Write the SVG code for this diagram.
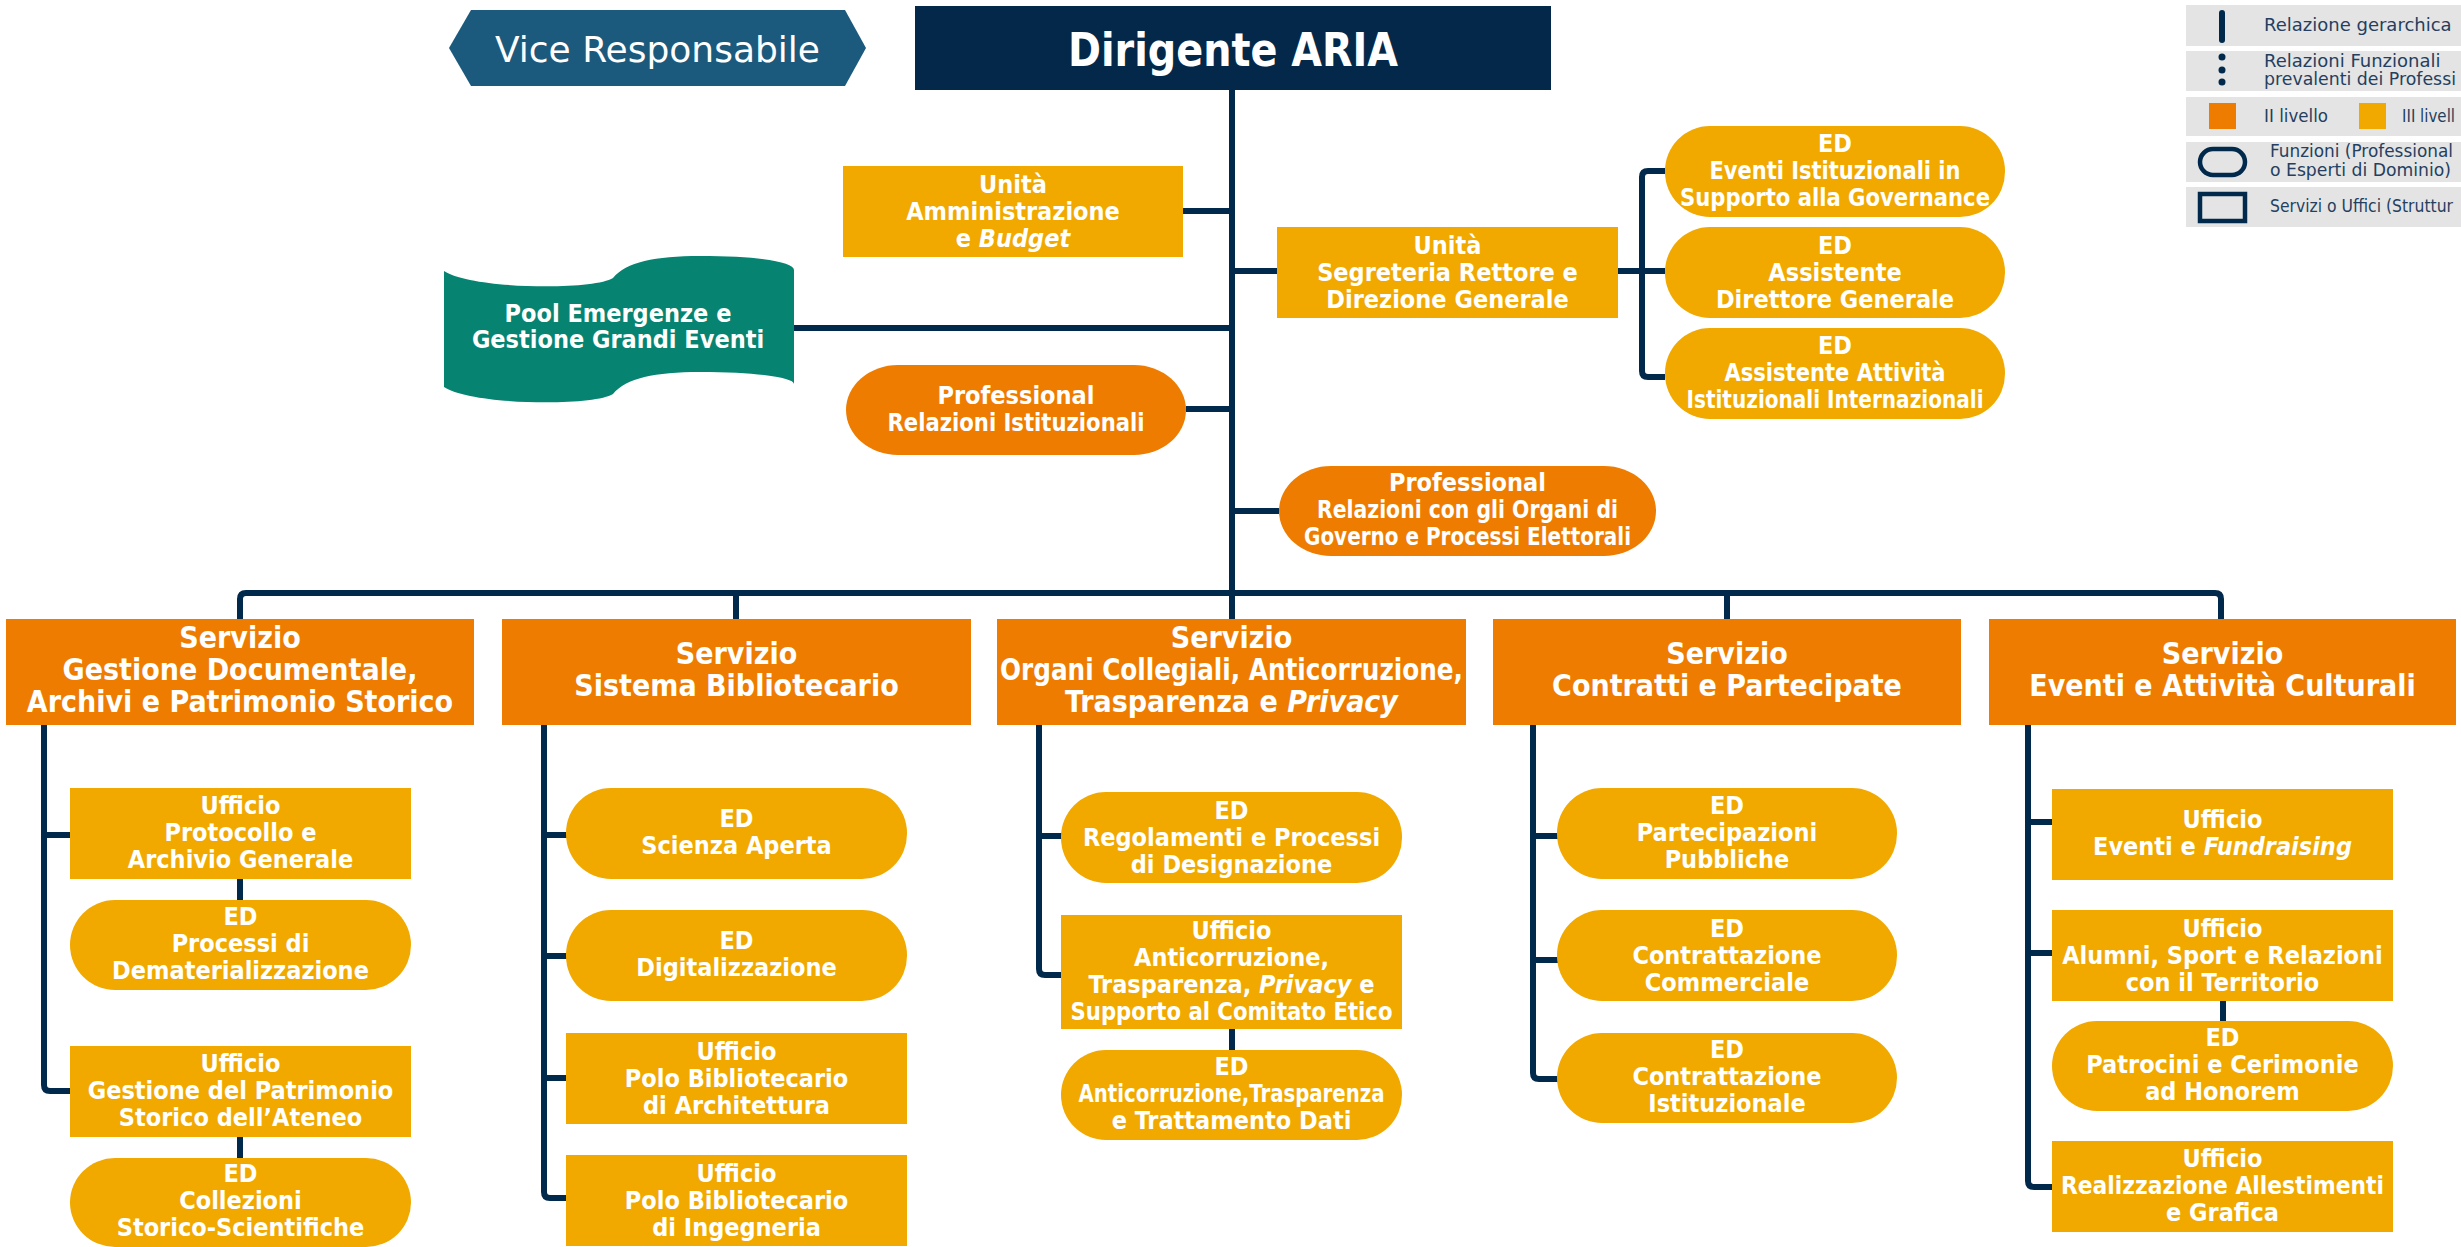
<svg xmlns="http://www.w3.org/2000/svg" width="2461" height="1247" viewBox="0 0 2461 1247">
<style>
.l{stroke:#00294b;stroke-width:6;fill:none;stroke-linejoin:round;stroke-linecap:butt}
.o{fill:#ee7c00}
.a{fill:#f1a900}
.t{font-family:'DejaVu Sans Condensed','DejaVu Sans',sans-serif;font-stretch:condensed;font-weight:bold;font-size:25px;fill:#ffffff;text-anchor:middle}
.s{font-size:30px}
.lg{font-family:'DejaVu Sans',sans-serif;font-size:18px;fill:#243f60}
.lb{fill:#e4e4e4}
</style>
<rect width="2461" height="1247" fill="#ffffff"/>

<g id="connectors" class="l">
<path d="M1232,89 V593"/>
<path d="M240,620 V599 Q240,593 246,593 H2215 Q2221,593 2221,599 V620"/>
<path d="M736,593 V619 M1232,593 V619 M1727,593 V619"/>
<path d="M1183,211 H1232 M794,328 H1232 M1186,409 H1232 M1232,271 H1277 M1232,511 H1279 M1618,271 H1665"/>
<path d="M1665,171 H1648 Q1642,171 1642,177 V371 Q1642,377 1648,377 H1665"/>
<path d="M44,725 V1085 Q44,1091 50,1091 H71 M44,835 H70 M240,879 V900 M240,1137 V1158"/>
<path d="M544,725 V1192 Q544,1198 550,1198 H567 M544,835 H567 M544,956 H567 M544,1078 H567"/>
<path d="M1039,725 V969 Q1039,975 1045,975 H1061 M1039,836 H1062 M1232,1029 V1050"/>
<path d="M1533,725 V1073 Q1533,1079 1539,1079 H1558 M1533,836 H1558 M1533,960 H1558"/>
<path d="M2028,725 V1181 Q2028,1187 2034,1187 H2052 M2028,822 H2053 M2028,953 H2052 M2223,1001 V1021"/>
</g>

<g id="vice-responsabile">
<polygon points="449,48 471,10 845,10 866,48 845,86 471,86" fill="#1b5a7d"/>
<text x="657.5" y="62" font-family="'DejaVu Sans',sans-serif" font-size="36" fill="#ffffff" text-anchor="middle">Vice Responsabile</text>
</g>

<g id="dirigente-aria">
<rect x="915" y="6" width="636" height="84" fill="#03284a"/>
<text class="t" x="1233" y="66" style="font-size:46px" textLength="330" lengthAdjust="spacingAndGlyphs">Dirigente ARIA</text>
</g>

<g id="unita-amministrazione">
<rect class="a" x="843" y="166" width="340" height="91"/>
<text class="t" x="1013" y="192.5">Unità</text>
<text class="t" x="1013" y="219.5">Amministrazione</text>
<text class="t" x="1013" y="246.5">e <tspan font-style="italic">Budget</tspan></text>
</g>

<g id="pool-emergenze">
<path d="M444,271 C470,289 592,291 613,278 C626,262 655,256 700,256 C760,256 794,262 794,270 V384 C794,378 760,372 700,372 C655,372 626,378 613,394 C592,407 470,405 444,387 Z" fill="#068471"/>
<text class="t" x="618" y="322">Pool Emergenze e</text>
<text class="t" x="618" y="348">Gestione Grandi Eventi</text>
</g>

<g id="professional-relazioni-istituzionali">
<rect class="o" x="846" y="365" width="340" height="90" rx="52" ry="45"/>
<text class="t" x="1016" y="403.5">Professional</text>
<text class="t" x="1016" y="430.5" textLength="257" lengthAdjust="spacingAndGlyphs">Relazioni Istituzionali</text>
</g>

<g id="unita-segreteria">
<rect class="a" x="1277" y="227" width="341" height="91"/>
<text class="t" x="1447.5" y="253.5">Unità</text>
<text class="t" x="1447.5" y="280.5">Segreteria Rettore e</text>
<text class="t" x="1447.5" y="307.5">Direzione Generale</text>
</g>

<g id="professional-organi-governo">
<rect class="o" x="1279" y="466" width="377" height="90" rx="52" ry="45"/>
<text class="t" x="1467.5" y="491">Professional</text>
<text class="t" x="1467.5" y="518" textLength="301" lengthAdjust="spacingAndGlyphs">Relazioni con gli Organi di</text>
<text class="t" x="1467.5" y="545" textLength="327" lengthAdjust="spacingAndGlyphs">Governo e Processi Elettorali</text>
</g>

<g id="ed-eventi-istituzionali">
<rect class="a" x="1665" y="126" width="340" height="91" rx="45" ry="45"/>
<text class="t" x="1835" y="151.5">ED</text>
<text class="t" x="1835" y="178.5" textLength="251" lengthAdjust="spacingAndGlyphs">Eventi Istituzionali in</text>
<text class="t" x="1835" y="205.5" textLength="310" lengthAdjust="spacingAndGlyphs">Supporto alla Governance</text>
</g>

<g id="ed-assistente-dg">
<rect class="a" x="1665" y="227" width="340" height="91" rx="45" ry="45"/>
<text class="t" x="1835" y="253.5">ED</text>
<text class="t" x="1835" y="280.5">Assistente</text>
<text class="t" x="1835" y="307.5">Direttore Generale</text>
</g>

<g id="ed-assistente-internazionali">
<rect class="a" x="1665" y="328" width="340" height="91" rx="45" ry="45"/>
<text class="t" x="1835" y="353.5">ED</text>
<text class="t" x="1835" y="380.5" textLength="221" lengthAdjust="spacingAndGlyphs">Assistente Attività</text>
<text class="t" x="1835" y="407.5" textLength="297" lengthAdjust="spacingAndGlyphs">Istituzionali Internazionali</text>
</g>

<g id="legend">
<rect class="lb" x="2186" y="5" width="275" height="41"/>
<rect class="lb" x="2186" y="51" width="275" height="40"/>
<rect class="lb" x="2186" y="97" width="275" height="39"/>
<rect class="lb" x="2186" y="142" width="275" height="40"/>
<rect class="lb" x="2186" y="187" width="275" height="40"/>
<line x1="2222" y1="13" x2="2222" y2="40" stroke="#00294b" stroke-width="6" stroke-linecap="round"/>
<circle cx="2222" cy="57" r="3.5" fill="#00294b"/>
<circle cx="2222" cy="70" r="3.5" fill="#00294b"/>
<circle cx="2222" cy="82" r="3.5" fill="#00294b"/>
<rect x="2209" y="103" width="27" height="26" fill="#ee7c00"/>
<rect x="2359" y="103" width="27" height="26" fill="#f1a900"/>
<rect x="2200" y="149" width="45" height="26" rx="13" ry="13" fill="none" stroke="#00294b" stroke-width="4.5"/>
<rect x="2200" y="194" width="45" height="27" fill="none" stroke="#00294b" stroke-width="4.5"/>
<text class="lg" x="2264" y="31">Relazione gerarchica</text>
<text class="lg" x="2264" y="67">Relazioni Funzionali</text>
<text class="lg" x="2264" y="85" textLength="192" lengthAdjust="spacingAndGlyphs">prevalenti dei Professi</text>
<text class="lg" x="2264" y="122" textLength="64" lengthAdjust="spacingAndGlyphs">II livello</text>
<text class="lg" x="2402" y="122" textLength="53" lengthAdjust="spacingAndGlyphs">III livell</text>
<text class="lg" x="2270" y="157" textLength="183" lengthAdjust="spacingAndGlyphs">Funzioni (Professional</text>
<text class="lg" x="2270" y="176" textLength="181" lengthAdjust="spacingAndGlyphs">o Esperti di Dominio)</text>
<text class="lg" x="2270" y="212" textLength="183" lengthAdjust="spacingAndGlyphs">Servizi o Uffici (Struttur</text>
</g>

<g id="servizio-gestione-documentale">
<rect class="o" x="6" y="619" width="468" height="106"/>
<text class="t s" x="240" y="648">Servizio</text>
<text class="t s" x="240" y="680">Gestione Documentale,</text>
<text class="t s" x="240" y="712">Archivi e Patrimonio Storico</text>
</g>

<g id="servizio-sistema-bibliotecario">
<rect class="o" x="502" y="619" width="469" height="106"/>
<text class="t s" x="736.5" y="664">Servizio</text>
<text class="t s" x="736.5" y="696">Sistema Bibliotecario</text>
</g>

<g id="servizio-organi-collegiali">
<rect class="o" x="997" y="619" width="469" height="106"/>
<text class="t s" x="1231.5" y="648">Servizio</text>
<text class="t s" x="1231.5" y="680" textLength="463" lengthAdjust="spacingAndGlyphs">Organi Collegiali, Anticorruzione,</text>
<text class="t s" x="1231.5" y="712">Trasparenza e <tspan font-style="italic">Privacy</tspan></text>
</g>

<g id="servizio-contratti">
<rect class="o" x="1493" y="619" width="468" height="106"/>
<text class="t s" x="1727" y="664">Servizio</text>
<text class="t s" x="1727" y="696">Contratti e Partecipate</text>
</g>

<g id="servizio-eventi">
<rect class="o" x="1989" y="619" width="467" height="106"/>
<text class="t s" x="2222.5" y="664">Servizio</text>
<text class="t s" x="2222.5" y="696">Eventi e Attività Culturali</text>
</g>

<g id="ufficio-protocollo">
<rect class="a" x="70" y="788" width="341" height="91"/>
<text class="t" x="240.5" y="813.5">Ufficio</text>
<text class="t" x="240.5" y="840.5">Protocollo e</text>
<text class="t" x="240.5" y="867.5">Archivio Generale</text>
</g>

<g id="ed-dematerializzazione">
<rect class="a" x="70" y="900" width="341" height="90" rx="45" ry="45"/>
<text class="t" x="240.5" y="925">ED</text>
<text class="t" x="240.5" y="952">Processi di</text>
<text class="t" x="240.5" y="979">Dematerializzazione</text>
</g>

<g id="ufficio-patrimonio-storico">
<rect class="a" x="70" y="1046" width="341" height="91"/>
<text class="t" x="240.5" y="1071.5">Ufficio</text>
<text class="t" x="240.5" y="1098.5">Gestione del Patrimonio</text>
<text class="t" x="240.5" y="1125.5">Storico dell’Ateneo</text>
</g>

<g id="ed-collezioni">
<rect class="a" x="70" y="1158" width="341" height="89" rx="45" ry="45"/>
<text class="t" x="240.5" y="1182">ED</text>
<text class="t" x="240.5" y="1209">Collezioni</text>
<text class="t" x="240.5" y="1236">Storico-Scientifiche</text>
</g>

<g id="ed-scienza-aperta">
<rect class="a" x="566" y="788" width="341" height="91" rx="45" ry="45"/>
<text class="t" x="736.5" y="827">ED</text>
<text class="t" x="736.5" y="854">Scienza Aperta</text>
</g>

<g id="ed-digitalizzazione">
<rect class="a" x="566" y="910" width="341" height="91" rx="45" ry="45"/>
<text class="t" x="736.5" y="949">ED</text>
<text class="t" x="736.5" y="976">Digitalizzazione</text>
</g>

<g id="ufficio-polo-architettura">
<rect class="a" x="566" y="1033" width="341" height="91"/>
<text class="t" x="736.5" y="1059.5">Ufficio</text>
<text class="t" x="736.5" y="1086.5">Polo Bibliotecario</text>
<text class="t" x="736.5" y="1113.5">di Architettura</text>
</g>

<g id="ufficio-polo-ingegneria">
<rect class="a" x="566" y="1155" width="341" height="91"/>
<text class="t" x="736.5" y="1181.5">Ufficio</text>
<text class="t" x="736.5" y="1208.5">Polo Bibliotecario</text>
<text class="t" x="736.5" y="1235.5">di Ingegneria</text>
</g>

<g id="ed-regolamenti">
<rect class="a" x="1061" y="792" width="341" height="91" rx="45" ry="45"/>
<text class="t" x="1231.5" y="818.5">ED</text>
<text class="t" x="1231.5" y="845.5">Regolamenti e Processi</text>
<text class="t" x="1231.5" y="872.5">di Designazione</text>
</g>

<g id="ufficio-anticorruzione">
<rect class="a" x="1061" y="915" width="341" height="114"/>
<text class="t" x="1231.5" y="938.5">Ufficio</text>
<text class="t" x="1231.5" y="965.5">Anticorruzione,</text>
<text class="t" x="1231.5" y="992.5">Trasparenza, <tspan font-style="italic">Privacy</tspan> e</text>
<text class="t" x="1231.5" y="1019.5" textLength="322" lengthAdjust="spacingAndGlyphs">Supporto al Comitato Etico</text>
</g>

<g id="ed-anticorruzione">
<rect class="a" x="1061" y="1050" width="341" height="90" rx="45" ry="45"/>
<text class="t" x="1231.5" y="1075">ED</text>
<text class="t" x="1231.5" y="1102" textLength="306" lengthAdjust="spacingAndGlyphs">Anticorruzione,Trasparenza</text>
<text class="t" x="1231.5" y="1129">e Trattamento Dati</text>
</g>

<g id="ed-partecipazioni">
<rect class="a" x="1557" y="788" width="340" height="91" rx="45" ry="45"/>
<text class="t" x="1727" y="813.5">ED</text>
<text class="t" x="1727" y="840.5">Partecipazioni</text>
<text class="t" x="1727" y="867.5">Pubbliche</text>
</g>

<g id="ed-contrattazione-commerciale">
<rect class="a" x="1557" y="910" width="340" height="91" rx="45" ry="45"/>
<text class="t" x="1727" y="936.5">ED</text>
<text class="t" x="1727" y="963.5">Contrattazione</text>
<text class="t" x="1727" y="990.5">Commerciale</text>
</g>

<g id="ed-contrattazione-istituzionale">
<rect class="a" x="1557" y="1033" width="340" height="90" rx="45" ry="45"/>
<text class="t" x="1727" y="1058">ED</text>
<text class="t" x="1727" y="1085">Contrattazione</text>
<text class="t" x="1727" y="1112">Istituzionale</text>
</g>

<g id="ufficio-eventi-fundraising">
<rect class="a" x="2052" y="789" width="341" height="91"/>
<text class="t" x="2222.5" y="828">Ufficio</text>
<text class="t" x="2222.5" y="855">Eventi e <tspan font-style="italic">Fundraising</tspan></text>
</g>

<g id="ufficio-alumni">
<rect class="a" x="2052" y="910" width="341" height="91"/>
<text class="t" x="2222.5" y="936.5">Ufficio</text>
<text class="t" x="2222.5" y="963.5">Alumni, Sport e Relazioni</text>
<text class="t" x="2222.5" y="990.5">con il Territorio</text>
</g>

<g id="ed-patrocini">
<rect class="a" x="2052" y="1021" width="341" height="90" rx="45" ry="45"/>
<text class="t" x="2222.5" y="1046">ED</text>
<text class="t" x="2222.5" y="1073">Patrocini e Cerimonie</text>
<text class="t" x="2222.5" y="1100">ad Honorem</text>
</g>

<g id="ufficio-realizzazione">
<rect class="a" x="2052" y="1141" width="341" height="91"/>
<text class="t" x="2222.5" y="1166.5">Ufficio</text>
<text class="t" x="2222.5" y="1193.5" textLength="323" lengthAdjust="spacingAndGlyphs">Realizzazione Allestimenti</text>
<text class="t" x="2222.5" y="1220.5">e Grafica</text>
</g>
</svg>
